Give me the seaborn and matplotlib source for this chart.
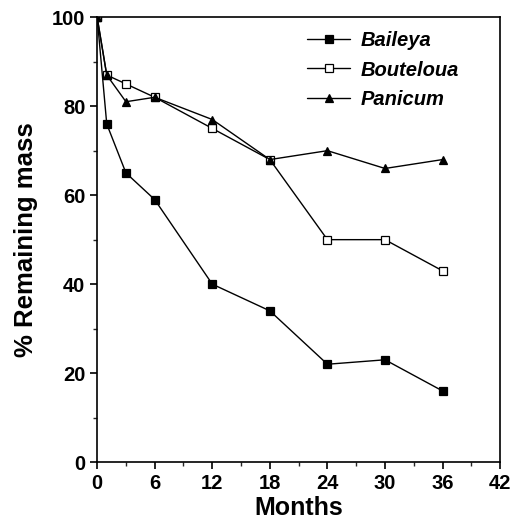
import numpy as np
import pandas as pd
import matplotlib
matplotlib.use("Agg")
import matplotlib.pyplot as plt
import seaborn as sns
from matplotlib.ticker import MultipleLocator

# Remaining mass (%) of litter over time
months = [0, 1, 3, 6, 12, 18, 24, 30, 36]
baileya = [100, 76, 65, 59, 40, 34, 22, 23, 16]
bouteloua = [100, 87, 85, 82, 75, 68, 50, 50, 43]
panicum = [100, 87, 81, 82, 77, 68, 70, 66, 68]

species = ["Baileya", "Bouteloua", "Panicum"]
markers = {"Baileya": "s", "Bouteloua": "s", "Panicum": "^"}
faces = {"Baileya": "black", "Bouteloua": "white", "Panicum": "black"}

df = pd.DataFrame({"Months": months * 3,
                   "Mass": baileya + bouteloua + panicum,
                   "Species": np.repeat(species, len(months))})

sns.set_style("ticks")
plt.rcParams["font.family"] = ["Liberation Sans", "DejaVu Sans"]
plt.rcParams["font.weight"] = "bold"
plt.rcParams["text.color"] = "black"
plt.rcParams["axes.labelcolor"] = "black"

fig = plt.figure(figsize=(5.14, 5.21), dpi=100)
ax = fig.add_axes([0.189, 0.113, 0.784, 0.854])

for sp in species:
    sub = df[df["Species"] == sp]
    sns.lineplot(data=sub, x="Months", y="Mass", ax=ax, color="black",
                 linewidth=1.0, marker=markers[sp], markersize=6,
                 markerfacecolor=faces[sp], markeredgecolor="black",
                 markeredgewidth=0.9, label=sp)

ax.set_xlim(0, 42)
ax.set_ylim(0, 100)
ax.xaxis.set_major_locator(MultipleLocator(6))
ax.xaxis.set_minor_locator(MultipleLocator(3))
ax.yaxis.set_major_locator(MultipleLocator(20))
ax.yaxis.set_minor_locator(MultipleLocator(10))
ax.tick_params(which="major", direction="out", length=5, width=1.2,
               labelsize=14.5, colors="black")
ax.tick_params(which="minor", direction="out", length=3, width=1.0)
for lab in ax.get_xticklabels() + ax.get_yticklabels():
    lab.set_fontweight("bold")
for s in ax.spines.values():
    s.set_linewidth(1.2)
    s.set_color("black")

ax.set_xlabel("Months", fontsize=18, fontweight="bold", labelpad=2)
ax.set_ylabel("% Remaining mass", fontsize=18.5, fontweight="bold", labelpad=10)

leg = ax.legend(loc="upper left", frameon=False, handlelength=2.15,
                bbox_to_anchor=(0.521, 0.968), borderaxespad=0, borderpad=0,
                prop={"size": 14.5, "weight": "bold", "style": "italic"},
                labelspacing=0.5, handletextpad=0.5)

fig.savefig("out.png", dpi=100)
